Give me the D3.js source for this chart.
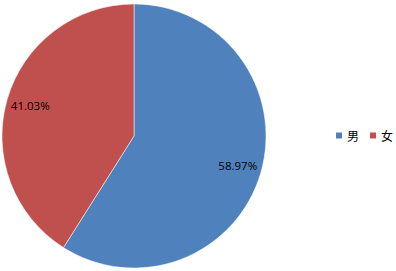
<!DOCTYPE html>
<html lang="en">
<head>
<meta charset="UTF-8">
<title>Pie</title>
<script src="https://d3js.org/d3.v7.min.js"></script>
<style>
  body { margin: 0; background: #fff; }
  text { font-family: "Noto Sans CJK SC", "Liberation Sans", sans-serif; }
</style>
</head>
<body>
<div id="chart"></div>
<script>
// data
var categories = ["男", "女"];
var values = [58.97, 41.03];
var colors = ["#4F81BD", "#C0504D"];

var width = 396, height = 271;
var cx = 134, cy = 136, radius = 132;

var svg = d3.select("#chart").append("svg")
    .attr("width", width)
    .attr("height", height);

var color = d3.scaleOrdinal().domain(categories).range(colors);

var pie = d3.pie().sort(null).value(function(d) { return d.value; });
var data = categories.map(function(c, i) { return { name: c, value: values[i] }; });
var arcs = pie(data);

var arc = d3.arc().innerRadius(0).outerRadius(radius);
var labelArc = d3.arc().innerRadius(108).outerRadius(108);

var g = svg.append("g").attr("transform", "translate(" + cx + "," + cy + ")");

g.selectAll("path")
    .data(arcs)
    .enter().append("path")
    .attr("d", arc)
    .attr("fill", function(d) { return color(d.data.name); })
    .attr("stroke", "#fff")
    .attr("stroke-width", 0.5);

g.selectAll("text.lbl")
    .data(arcs)
    .enter().append("text")
    .attr("class", "lbl")
    .attr("transform", function(d) { return "translate(" + labelArc.centroid(d) + ")"; })
    .attr("text-anchor", "middle")
    .attr("dy", "0.35em")
    .style("font-family", "'Open Sans', 'Liberation Sans', sans-serif")
    .style("font-size", "11.5px")
    .attr("fill", "#000")
    .text(function(d) { return d.data.value.toFixed(2) + "%"; });

// legend
var legend = svg.append("g").attr("transform", "translate(336,131)");
var item = legend.selectAll("g")
    .data(categories)
    .enter().append("g")
    .attr("transform", function(d, i) { return "translate(" + (i * 34) + ",0)"; });

item.append("rect")
    .attr("width", 6)
    .attr("height", 6)
    .attr("y", 1.5)
    .attr("fill", function(d) { return color(d); });

item.append("text")
    .attr("x", 11)
    .attr("y", 9.5)
    .style("font-size", "12px")
    .attr("fill", "#000")
    .text(function(d) { return d; });
</script>
</body>
</html>
